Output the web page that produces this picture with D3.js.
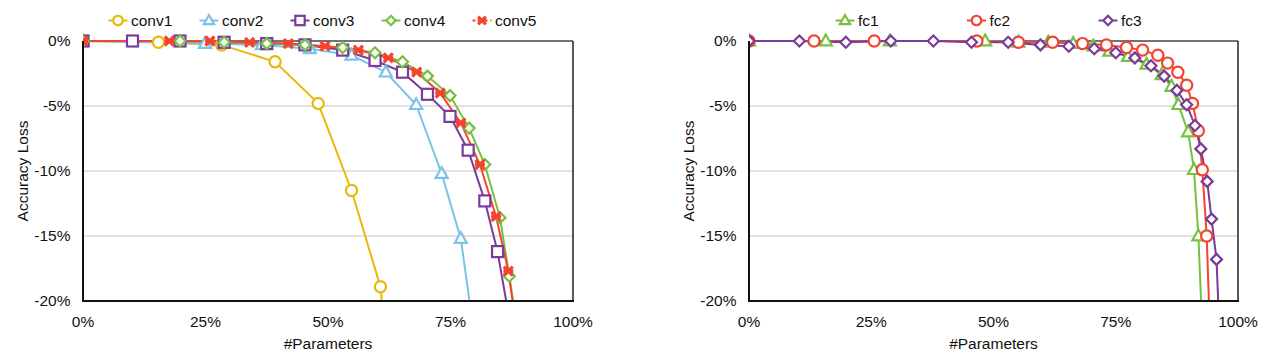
<!DOCTYPE html>
<html>
<head>
<meta charset="utf-8">
<script src="https://cdn.jsdelivr.net/npm/d3@7"></script>
<style>
  body { margin: 0; background: #fff; }
  text { font-family: "Liberation Sans", Arial, sans-serif; font-size: 15.5px; fill: #111; }
</style>
</head>
<body>
<div class="chart"></div>
<script>
// tick labels
const xTicks = [0, 25, 50, 75, 100];
const yTicks = [0, -5, -10, -15, -20];

// conv layers: [#parameters %, accuracy loss %]
const conv1 = [[0,0],[15.4,-0.1],[28.3,-0.3],[39.2,-1.6],[48,-4.8],[54.8,-11.5],[60.7,-18.9],[62,-24]];
const conv2 = [[0,0],[24.9,-0.2],[36.5,-0.3],[46.3,-0.6],[54.8,-1.1],[61.8,-2.4],[68,-4.9],[73.2,-10.2],[77.1,-15.2],[80,-23]];
const conv3 = [[0,0],[10.1,0],[19.8,0],[28.8,-0.1],[37.5,-0.2],[45.3,-0.3],[53,-0.7],[59.6,-1.5],[65.2,-2.4],[70.3,-4.1],[74.9,-5.8],[78.6,-8.4],[82,-12.3],[84.6,-16.2],[87.3,-22]];
const conv4 = [[0,0],[19.8,0],[28.8,-0.1],[37.5,-0.2],[45.3,-0.3],[53,-0.5],[59.6,-0.9],[65.2,-1.6],[70.3,-2.7],[74.9,-4.2],[78.8,-6.7],[82,-9.5],[85.1,-13.6],[87,-18.1],[89,-23]];
const conv5 = [[0,0],[17.6,0],[25.9,0],[34,-0.1],[41.9,-0.2],[49.4,-0.4],[56.2,-0.7],[62.3,-1.3],[68.1,-2.4],[72.9,-4],[77.1,-6.3],[81,-9.5],[84.3,-13.5],[86.8,-17.7],[88.8,-23]];

// fc layers
const fc1 = [[0,0],[15.7,0],[28.8,0],[48.3,0],[55.1,-0.1],[61.2,-0.1],[66.3,-0.2],[70.4,-0.4],[73.7,-0.8],[77.5,-1.2],[81.3,-1.8],[84.4,-2.6],[86.4,-3.5],[87.8,-4.9],[89.8,-7],[91,-9.9],[91.9,-15],[93,-25]];
const fc2 = [[0,0],[13.3,0],[25.6,0],[46.6,0],[55.1,-0.1],[62.1,-0.1],[68.2,-0.2],[73.1,-0.3],[77.2,-0.5],[80.5,-0.7],[83.6,-1.1],[85.6,-1.7],[87.7,-2.4],[89.5,-3.4],[90.7,-4.8],[91.9,-6.9],[92.7,-9.9],[93.6,-15],[94.5,-25]];
const fc3 = [[0,0],[10.3,0],[19.8,-0.1],[29,0],[37.7,0],[45.5,-0.1],[53,-0.1],[59.6,-0.3],[65.4,-0.4],[70.6,-0.6],[75,-0.9],[78.9,-1.3],[82.2,-1.9],[84.9,-2.7],[87.5,-3.8],[89.5,-4.9],[91.2,-6.5],[92.4,-8.3],[93.7,-10.8],[94.6,-13.7],[95.6,-16.8],[96.5,-25]];

const convSeries = [
  { name: "conv1", data: conv1, color: "#E8B90A", shape: "circle" },
  { name: "conv2", data: conv2, color: "#7CC3E8", shape: "triangle" },
  { name: "conv3", data: conv3, color: "#7A3B9C", shape: "square" },
  { name: "conv4", data: conv4, color: "#77C043", shape: "diamond" },
  { name: "conv5", data: conv5, color: "#F4432F", shape: "cross" },
];
const fcSeries = [
  { name: "fc1", data: fc1, color: "#77C043", shape: "triangle" },
  { name: "fc2", data: fc2, color: "#F4432F", shape: "circle" },
  { name: "fc3", data: fc3, color: "#7A3B9C", shape: "diamond" },
];

const svg = d3.select(".chart")
  .append("svg")
  .attr("width", 1273)
  .attr("height", 361);

// draws one marker centred on 0,0
function marker(g, shape, color, s) {
  if (shape === "circle") {
    g.append("circle").attr("r", 5.6*s).attr("fill", "#fff").attr("stroke", color).attr("stroke-width", 2.2);
  } else if (shape === "square") {
    g.append("rect").attr("x", -5.5*s).attr("y", -5.5*s).attr("width", 11*s).attr("height", 11*s)
      .attr("fill", "#fff").attr("stroke", color).attr("stroke-width", 2.2);
  } else if (shape === "triangle") {
    g.append("path").attr("d", `M0,${-6.5*s}L${6*s},${4.3*s}L${-6*s},${4.3*s}Z`)
      .attr("fill", "#fff").attr("stroke", color).attr("stroke-width", 2.2);
  } else if (shape === "diamond") {
    g.append("path").attr("d", `M0,${-5.5*s}L${5.5*s},0L0,${5.5*s}L${-5.5*s},0Z`)
      .attr("fill", "#fff").attr("stroke", color).attr("stroke-width", 2.2);
  } else {
    g.append("path").attr("d", `M${-4.5*s},${-4.5*s}L${4.5*s},${4.5*s}M${-4.5*s},${4.5*s}L${4.5*s},${-4.5*s}M${-5*s},0L${5*s},0`)
      .attr("stroke", color).attr("stroke-width", 3.2).attr("fill", "none");
  }
}

function drawPanel(id, series, left, right, legendX, legendStep) {
  const top = 41, bottom = 301;
  const x = d3.scaleLinear().domain([0, 100]).range([left, right]);
  const y = d3.scaleLinear().domain([0, -20]).range([top, bottom]);

  svg.append("clipPath").attr("id", id)
    .append("rect").attr("x", left).attr("y", top - 8).attr("width", right - left + 8).attr("height", bottom - top + 8);

  const g = svg.append("g");

  // gridlines
  g.selectAll("line.grid")
    .data(yTicks.filter(t => t !== 0 && t !== -20))
    .join("line")
    .attr("x1", left).attr("x2", right)
    .attr("y1", d => y(d)).attr("y2", d => y(d))
    .attr("stroke", "#c6c6c6").attr("stroke-width", 1.2);

  // frame
  g.append("line").attr("x1", left).attr("x2", right).attr("y1", top).attr("y2", top)
    .attr("stroke", "#444").attr("stroke-width", 1.5);
  g.append("line").attr("x1", right).attr("x2", right).attr("y1", top).attr("y2", bottom)
    .attr("stroke", "#222").attr("stroke-width", 1.5);

  const plot = g.append("g").attr("clip-path", `url(#${id})`);
  const line = d3.line().x(d => x(d[0])).y(d => y(d[1]));

  series.forEach(s => {
    plot.append("path")
      .datum(s.data)
      .attr("d", line)
      .attr("fill", "none")
      .attr("stroke", s.color)
      .attr("stroke-width", 2);
  });
  series.forEach(s => {
    plot.selectAll(null)
      .data(s.data.filter(d => d[1] >= -20.5))
      .join("g")
      .attr("transform", d => `translate(${x(d[0])},${y(d[1])})`)
      .each(function() { marker(d3.select(this), s.shape, s.color, 1); });
  });

  // axes
  g.append("line").attr("x1", left).attr("x2", left).attr("y1", top).attr("y2", bottom + 1)
    .attr("stroke", "#111").attr("stroke-width", 2);
  g.append("line").attr("x1", left - 1).attr("x2", right + 1).attr("y1", bottom).attr("y2", bottom)
    .attr("stroke", "#111").attr("stroke-width", 2);

  g.selectAll("text.ytick")
    .data(yTicks)
    .join("text")
    .attr("x", left - 12.5)
    .attr("y", d => y(d))
    .attr("dy", "0.35em")
    .attr("text-anchor", "end")
    .text(d => d + "%");

  g.selectAll("text.xtick")
    .data(xTicks)
    .join("text")
    .attr("x", d => x(d))
    .attr("y", 327)
    .attr("text-anchor", "middle")
    .text(d => d + "%");

  g.append("text")
    .attr("x", (left + right) / 2)
    .attr("y", 349)
    .attr("text-anchor", "middle")
    .text("#Parameters");

  g.append("text")
    .attr("transform", `translate(${left - 60},${(top + bottom) / 2}) rotate(-90)`)
    .attr("dy", "0.35em")
    .attr("text-anchor", "middle")
    .text("Accuracy Loss");

  // legend
  series.forEach((s, i) => {
    const lg = g.append("g").attr("transform", `translate(${legendX + i * legendStep},20.5)`);
    lg.append("line").attr("x1", -9.5).attr("x2", 9.5)
      .attr("stroke", s.color).attr("stroke-width", 2)
      .attr("stroke-dasharray", s.shape === "cross" ? "3,3" : null);
    marker(lg, s.shape, s.color, 0.85);
    lg.append("text").attr("x", 13).attr("dy", "0.35em").text(s.name);
  });
}

drawPanel("clipL", convSeries, 83, 573, 118, 91);
drawPanel("clipR", fcSeries, 749, 1238, 845, 131.5);
</script>
</body>
</html>
